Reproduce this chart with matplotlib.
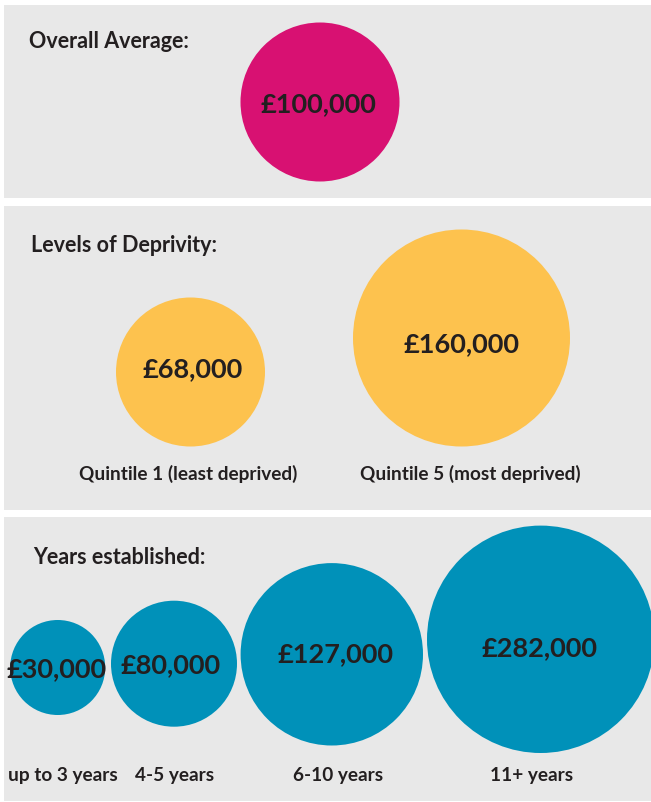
import matplotlib
matplotlib.use("Agg")
import matplotlib.pyplot as plt
from matplotlib.patches import Rectangle, Circle

# data
overall_value = ["£100,000"]
deprivation_labels = ["Quintile 1 (least deprived)", "Quintile 5 (most deprived)"]
deprivation_values = ["£68,000", "£160,000"]
years_labels = ["up to 3 years", "4-5 years", "6-10 years", "11+ years"]
years_values = ["£30,000", "£80,000", "£127,000", "£282,000"]

# colours
bg = "#e8e8e8"
pink = "#d81172"
yellow = "#fdc24e"
teal = "#0091b9"
ink = "#231f20"

W, H = 651, 803
fig = plt.figure(figsize=(W / 100, H / 100), dpi=100)
ax = fig.add_axes([0, 0, 1, 1])
ax.set_xlim(0, W)
ax.set_ylim(H, 0)
ax.axis("off")

font = "Lato"

# panels (x, y, w, h) in pixels
panels = [(4, 6, 647, 193), (4, 207, 647, 304), (4, 518, 647, 284)]
for (x, y, w, h) in panels:
    ax.add_patch(Rectangle((x, y), w, h, facecolor=bg, edgecolor="none"))

titles = ["Overall Average:", "Levels of Deprivity:", "Years established:"]
title_pos = [(29, 42), (31, 245), (33, 558)]
for t, (x, y) in zip(titles, title_pos):
    ax.text(x, y, t, fontsize=15.5, fontweight="bold", color=ink, family=font,
            ha="left", va="center")

def bubbles(values, centers, radii, color, text_pos, fs):
    for v, (cx, cy), r, (tx, ty) in zip(values, centers, radii, text_pos):
        ax.add_patch(Circle((cx, cy), r, facecolor=color, edgecolor="none"))
        ax.text(tx, ty, v, fontsize=fs, fontweight="bold", color=ink, family=font,
                ha="center", va="center")

# overall
bubbles(overall_value, [(320, 103)], [79.5], pink, [(318, 104)], 19.5)

# deprivation
bubbles(deprivation_values, [(190.5, 373), (461.5, 339)], [74.5, 108.5], yellow,
        [(193, 369), (462, 344)], 19.5)
for lab, x in zip(deprivation_labels, [188, 470]):
    ax.text(x, 474, lab, fontsize=13.7, fontweight="bold", color=ink, family=font,
            ha="center", va="center")

# years established
bubbles(years_values,
        [(57.7, 668.5), (174, 664.7), (331.8, 655.3), (540.7, 640.3)],
        [47.5, 63, 91.2, 113.7], teal,
        [(56.5, 669), (171, 665), (335, 654), (539, 648)], 19.5)
for lab, x in zip(years_labels, [63, 175, 338, 532]):
    ax.text(x, 776, lab, fontsize=13.7, fontweight="bold", color=ink, family=font,
            ha="center", va="center")

fig.savefig("out.png", dpi=100, facecolor="white")
